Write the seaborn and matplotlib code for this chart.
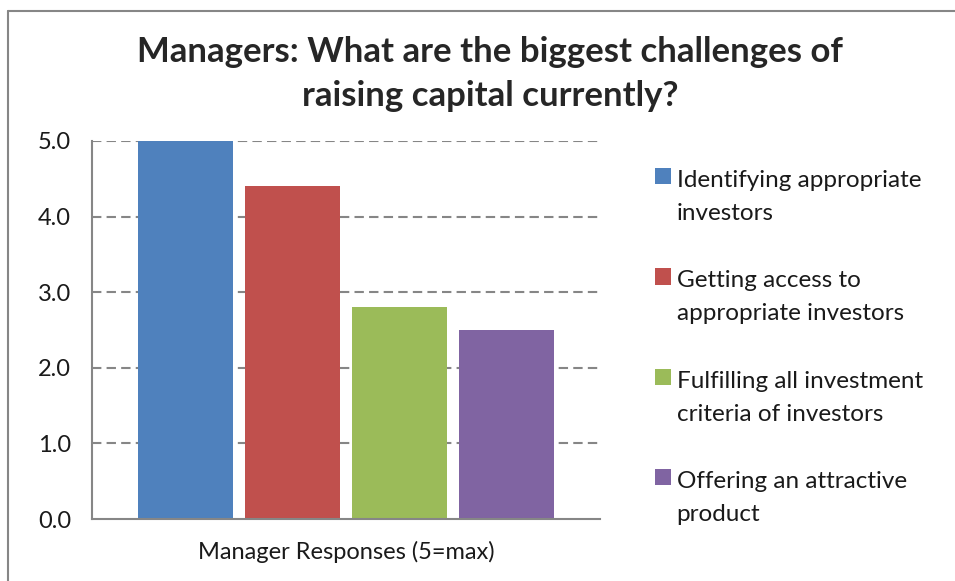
import matplotlib
matplotlib.use("Agg")
import matplotlib.pyplot as plt
from matplotlib.patches import Patch
from matplotlib.lines import Line2D
import seaborn as sns
import pandas as pd

# data
group = ["Manager Responses (5=max)"]
series = [
    "Identifying appropriate\ninvestors",
    "Getting access to\nappropriate investors",
    "Fulfilling all investment\ncriteria of investors",
    "Offering an attractive\nproduct",
]
values = [5.0, 4.4, 2.8, 2.5]
colors = ["#4F81BD", "#C0504D", "#9BBB59", "#8064A2"]
yticks = [0.0, 1.0, 2.0, 3.0, 4.0, 5.0]

df = pd.DataFrame({"group": group * len(series), "series": series, "value": values})

sns.set_style("white")
plt.rcParams["font.family"] = ["Lato", "DejaVu Sans"]
grey = "#868686"

fig = plt.figure(figsize=(9.55, 5.81), dpi=100)
ax = fig.add_axes([92 / 955, 1 - 519 / 581, 508 / 955, 378 / 581])

sns.barplot(data=df, x="group", y="value", hue="series", hue_order=series,
            palette=colors, width=0.843, gap=0.12, saturation=1,
            linewidth=0, legend=False, ax=ax)

ax.set_xlim(-0.5, 0.5)
ax.set_ylim(0, 5)
ax.set_yticks(yticks)
ax.set_yticklabels([f"{v:.1f}" for v in yticks], fontsize=17, color="#1a1a1a")
ax.set_xlabel("")
ax.set_ylabel("")
ax.tick_params(axis="x", length=0, labelsize=17, pad=16, labelcolor="#1a1a1a")
ax.tick_params(axis="y", length=6, width=1.5, color=grey, direction="out", pad=9)
ax.set_xticks([-0.5, 0.5], minor=True)
ax.tick_params(axis="x", which="minor", length=6, width=1.5, color=grey, direction="out")

for v in yticks[1:]:
    ax.axhline(v, color=grey, lw=1.5, ls=(0, (4.5, 2.5)), zorder=0)

for side in ["top", "right"]:
    ax.spines[side].set_visible(False)
for side in ["left", "bottom"]:
    ax.spines[side].set_color(grey)
    ax.spines[side].set_linewidth(1.5)
ax.set_axisbelow(True)

handles = [Patch(facecolor=c, edgecolor="none") for c in colors]
leg = fig.legend(handles, series, loc="upper left", bbox_to_anchor=(645 / 955, 1 - 160 / 581),
                 frameon=False, fontsize=17.5, handlelength=0.65, handleheight=0.65,
                 handletextpad=0.25, labelspacing=1.9, borderaxespad=0)
for t in leg.get_texts():
    t.set_linespacing(1.72)
    t.set_color("#1a1a1a")
for h in leg.legend_handles:
    h.set_y(h.get_y() + 15)

fig.text(490 / 955, 1 - 74 / 581, "Managers: What are the biggest challenges of\nraising capital currently?",
         ha="center", va="center", fontsize=25, fontweight="bold", linespacing=1.45)

# chart frame (left and top edges visible)
fig.add_artist(Line2D([8 / 955, 8 / 955], [0, 1 - 11 / 581], color=grey, lw=1.5))
fig.add_artist(Line2D([8 / 955, 1], [1 - 11 / 581, 1 - 11 / 581], color=grey, lw=1.5))

fig.savefig("out.png", dpi=100, facecolor="white")
